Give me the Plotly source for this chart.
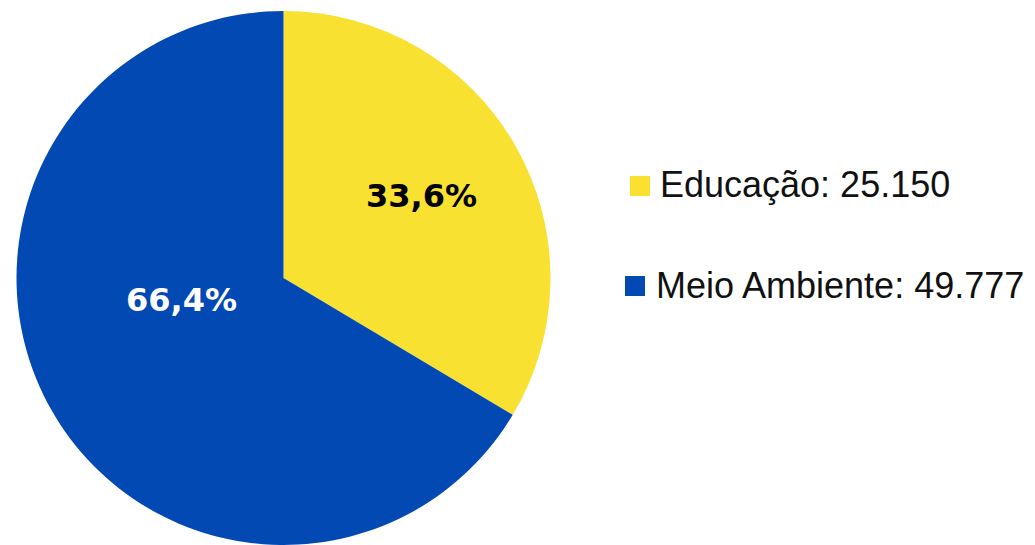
import plotly.graph_objects as go

categories = ["Educação", "Meio Ambiente"]
values = [25150, 49777]
colors = ["#F9E132", "#0349B4"]
label_colors = ["#000000", "#FFFFFF"]

W, H = 1035, 545

def px(x):
    return x / W

def py(y):
    return 1 - y / H

total = sum(values)
pcts = [v / total * 100 for v in values]
pct_text = [f"{p:.1f}".replace(".", ",") + "%" for p in pcts]
val_text = [f"{v:,}".replace(",", ".") for v in values]

fig = go.Figure(go.Pie(
    labels=categories,
    values=values,
    sort=False,
    direction="clockwise",
    rotation=0,
    marker=dict(colors=colors, line=dict(width=0)),
    textinfo="none",
    hoverinfo="label+value+percent",
    showlegend=False,
    domain=dict(x=[px(16.5), px(550.5)], y=[0, py(11)]),
))

# percentage labels on slices
label_pos = [(421, 196), (181, 300)]
annotations = []
for (lx, ly), t, c in zip(label_pos, pct_text, label_colors):
    annotations.append(dict(
        x=px(lx), y=py(ly), xref="paper", yref="paper",
        text=f"<b>{t}</b>", showarrow=False,
        font=dict(family="DejaVu Sans", size=32, color=c),
        xanchor="center", yanchor="middle",
    ))

# manual legend
legend_rows = [(630, 186, 658), (625, 286, 654)]
shapes = []
for (mx, my, tx), cat, vt, col in zip(legend_rows, categories, val_text, colors):
    shapes.append(dict(
        type="rect", xref="paper", yref="paper",
        x0=px(mx), x1=px(mx + 20), y0=py(my - 10), y1=py(my + 10),
        fillcolor=col, line=dict(width=0),
    ))
    annotations.append(dict(
        x=px(tx), y=py(my - 1), xref="paper", yref="paper",
        text=f"{cat}: {vt}", showarrow=False,
        font=dict(family="Liberation Sans, Arial", size=36, color="#111111"),
        xanchor="left", yanchor="middle",
    ))

fig.update_layout(
    width=W, height=H,
    margin=dict(l=0, r=0, t=0, b=0),
    paper_bgcolor="white",
    plot_bgcolor="white",
    annotations=annotations,
    shapes=shapes,
)

fig.write_html("out.html")
